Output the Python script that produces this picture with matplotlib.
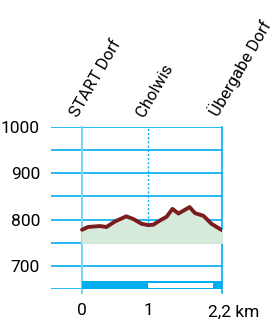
import matplotlib
matplotlib.use('Agg')
import matplotlib.pyplot as plt
import matplotlib.transforms as mtransforms

plt.rcParams['font.family'] = ['Roboto', 'DejaVu Sans']

# profile (km, m)
km = [0.0, 0.09, 0.27, 0.37, 0.5, 0.67, 0.78, 0.9, 1.0, 1.08, 1.18, 1.28,
      1.37, 1.46, 1.63, 1.71, 1.84, 1.96, 2.12]
elev = [778, 784, 786, 784, 796, 807, 801, 791, 788, 789, 798, 806,
        823, 813, 827, 814, 808, 791, 777]

places = ['START Dorf', 'Cholwis', 'Übergabe Dorf']
place_km = [0, 1, 2.12]
total_km = 2.12

yticks = [700, 800, 900, 1000]
blue = '#00aeef'

fig = plt.figure(figsize=(2.75, 3.2), dpi=100)
ax = fig.add_axes([51/275, 1 - 289/320, (222 - 51)/275, (289 - 127)/320])
ax.set_xlim(-0.47, total_km)
ax.set_ylim(650, 1000)

for y in range(650, 1001, 50):
    ax.axhline(y, color=blue, lw=1.2, zorder=1)
ax.plot([0, 0], [642, 1000], color='#7fd3f5', lw=1.5, clip_on=False, zorder=1)
ax.plot([1, 1], [750, 1000], color=blue, lw=1, ls=(0, (1.5, 1.5)), zorder=1)
ax.plot([total_km, total_km], [642, 1000], color=blue, lw=1.2, clip_on=False, zorder=1)

ax.fill_between(km, elev, 750, color='#d5eadb', zorder=2)
ax.plot(km, elev, color='#7b1c1f', lw=2.8, solid_capstyle='round', zorder=3)

# scale bar
ax.broken_barh([(0, total_km)], (650, 17), facecolors=blue, zorder=4)
ax.broken_barh([(1, 0.98)], (652.5, 11.5), facecolors='white', zorder=5)

for s in ax.spines.values():
    s.set_visible(False)
ax.set_yticks(yticks)
ax.set_yticklabels([str(v) for v in yticks], fontsize=12.5)
ax.tick_params(axis='y', length=0, pad=8)
ax.set_xticks([0, 1])
ax.set_xticklabels(['0', '1'], fontsize=12.5)
ax.tick_params(axis='x', length=0, pad=10)
ax.text(2.0, 0, '2,2 km', transform=ax.get_xaxis_transform() + mtransforms.ScaledTranslation(-6/100, -28/100, fig.dpi_scale_trans),
        fontsize=12.5, ha='left', va='baseline')

for name, x in zip(places, place_km):
    tr = ax.transData + mtransforms.ScaledTranslation(-4/100, 0, fig.dpi_scale_trans)
    ax.text(x, 1020, name, rotation=60, rotation_mode='anchor', ha='left', va='baseline',
            fontsize=12, transform=tr, clip_on=False)

fig.savefig('out.png', dpi=100)
